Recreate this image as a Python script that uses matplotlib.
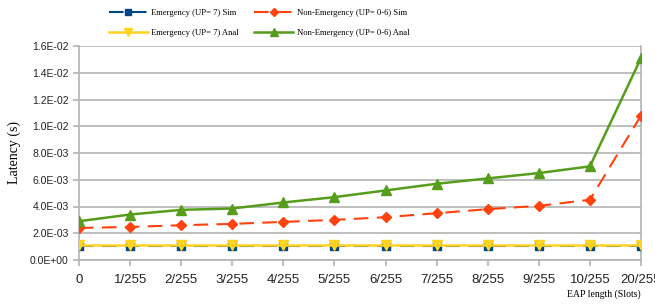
import matplotlib
matplotlib.use("Agg")
import matplotlib.pyplot as plt

categories = ["0", "1/255", "2/255", "3/255", "4/255", "5/255", "6/255",
              "7/255", "8/255", "9/255", "10/255", "20/255"]
emerg_sim = [1.05e-3] * 12
emerg_anal = [1.15e-3] * 12
nonemerg_sim = [2.4e-3, 2.47e-3, 2.6e-3, 2.7e-3, 2.85e-3, 3.0e-3, 3.2e-3,
                3.5e-3, 3.8e-3, 4.05e-3, 4.5e-3, 10.8e-3]
nonemerg_anal = [2.9e-3, 3.4e-3, 3.75e-3, 3.85e-3, 4.3e-3, 4.7e-3, 5.2e-3,
                 5.7e-3, 6.1e-3, 6.5e-3, 7.0e-3, 15.1e-3]
yticks = [0, 2e-3, 4e-3, 6e-3, 8e-3, 10e-3, 12e-3, 14e-3, 16e-3]
ytick_labels = ["0.0E+00", "2.0E-03", "4.0E-03", "6.0E-03", "8.0E-03",
                "1.0E-02", "1.2E-02", "1.4E-02", "1.6E-02"]

blue = "#004586"
red = "#ff420e"
yellow = "#ffd320"
green = "#579d1c"
grid = "#b3b3b3"

fig = plt.figure(figsize=(6.55, 3.04), dpi=100)
ax = fig.add_axes([79/655, 1-260/304, (641-79)/655, (260-46)/304])
x = list(range(len(categories)))

l1, = ax.plot(x, emerg_sim, color=blue, lw=1.5, dashes=(7, 4), marker="s",
              ms=6, zorder=3)
l2, = ax.plot(x, nonemerg_sim, color=red, lw=1.5, dashes=(7, 4), marker="D",
              ms=5.5, zorder=3)
l3, = ax.plot(x, emerg_anal, color=yellow, lw=1.8, marker="v", ms=7, zorder=4)
l4, = ax.plot(x, nonemerg_anal, color=green, lw=1.8, marker="^", ms=7, zorder=3)

ax.set_xlim(0, len(categories) - 1)
ax.set_ylim(0, 16e-3)
ax.set_xticks(x)
ax.set_xticklabels(categories, fontsize=9.5, family="Liberation Sans")
ax.set_yticks(yticks)
ax.set_yticklabels(ytick_labels, fontsize=7.5, family="Liberation Sans")
ax.yaxis.grid(True, color=grid, lw=1.2)
ax.set_axisbelow(True)
for s in ax.spines.values():
    s.set_color(grid)
    s.set_linewidth(1.2)
ax.spines["top"].set_visible(False)
ax.tick_params(axis="both", color=grid, width=1.2, length=4, colors="#222222")
ax.tick_params(axis="x", pad=6, color=grid)
ax.tick_params(axis="y", color=grid)

ax.set_ylabel("Latency (s)", family="Liberation Serif", fontsize=10, labelpad=6)
fig.text(641/655, 1-294/304, "EAP length (Slots)", family="Liberation Serif",
         fontsize=7, ha="right", va="center")

leg = fig.legend([l1, l3, l2, l4],
                 ["Emergency (UP= 7) Sim", "Emergency (UP= 7) Anal",
                  "Non-Emergency (UP= 0-6) Sim", "Non-Emergency (UP= 0-6) Anal"],
                 ncol=2, loc="center", bbox_to_anchor=(259/655, 1-23/304),
                 frameon=False, prop={"family": "Liberation Serif", "size": 6.2},
                 handlelength=4.5, handletextpad=0.4, columnspacing=1.8,
                 labelspacing=1.3, markerscale=0.8, borderpad=0)

fig.savefig("out.png", dpi=100)
